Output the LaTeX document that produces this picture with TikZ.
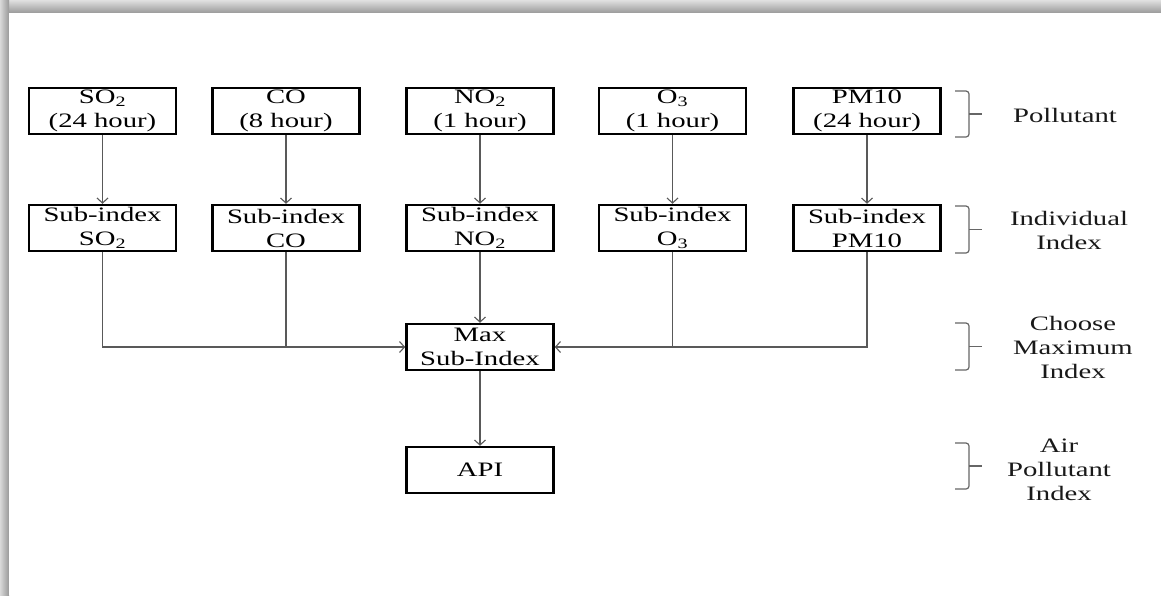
\documentclass[tikz,border=0pt]{standalone}
\usepackage{fontspec}
\setmainfont{Liberation Serif}[FakeStretch=1.4]
\usetikzlibrary{arrows.meta}
\begin{document}
\begin{tikzpicture}[x=1pt,y=-1pt,
  box/.style={draw=black,line width=2.5pt,minimum width=147pt,minimum height=46pt,inner sep=0pt,align=center,
    font=\fontsize{20.5}{24}\selectfont,text=black},
  lbl/.style={align=center,font=\fontsize{20.5}{24}\selectfont,text=black!90},
  conn/.style={draw=black!65,line width=1.2pt},
  arr/.style={conn,-{Straight Barb[length=5pt,width=11pt,line width=1.1pt]}},
  brk/.style={draw=black!60,line width=1.2pt,rounded corners=3pt}]
\useasboundingbox (0,0) rectangle (1161,595);
\fill[white] (0,0) rectangle (1161,595);
% page shadow
\shade[top color=black!12,bottom color=black!40] (0,0) rectangle (1161,13);
\shade[left color=black!15,right color=black!40] (0,0) rectangle (9,595);
\fill[white] (9,13) rectangle (1161,595);

% pollutant row
\node[box] (p1) at (102.5,111) {SO\textsubscript{2}\\(24 hour)};
\node[box] (p2) at (286,111) {CO\\(8 hour)};
\node[box] (p3) at (480,111) {NO\textsubscript{2}\\(1 hour)};
\node[box] (p4) at (672.5,111) {O\textsubscript{3}\\(1 hour)};
\node[box] (p5) at (867,111) {PM10\\(24 hour)};
% sub-index row
\node[box] (s1) at (102.5,228) {Sub-index\\SO\textsubscript{2}};
\node[box] (s2) at (286,228) {Sub-index\\CO};
\node[box] (s3) at (480,228) {Sub-index\\NO\textsubscript{2}};
\node[box] (s4) at (672.5,228) {Sub-index\\O\textsubscript{3}};
\node[box] (s5) at (867,228) {Sub-index\\PM10};
% max and API
\node[box] (mx) at (480,347) {Max\\Sub-Index};
\node[box] (api) at (480,470) {API};

% connectors
\foreach \i in {1,...,5} {\draw[arr] (p\i) -- (s\i);}
\draw[arr] (s1.south) |- (mx.west);
\draw[conn] (s2.south) -- (s2.south |- mx.west);
\draw[arr] (s3) -- (mx);
\draw[conn] (s4.south) -- (s4.south |- mx.east);
\draw[arr] (s5.south) |- (mx.east);
\draw[arr] (mx) -- (api);

% brackets
\foreach \t/\b in {91/137, 206/253, 323/370, 443/489} {
  \draw[brk] (955,\t) -- (969,\t) -- (969,\b) -- (955,\b);
  \draw[brk] (969,{(\t+\b)/2}) -- (982,{(\t+\b)/2});
}
\node[lbl] (l1) at (1065,115) {Pollutant};
\node[lbl] (l2) at (1069,230) {Individual\\Index};
\node[lbl] (l3) at (1073,347) {Choose\\Maximum\\Index};
\node[lbl] (l4) at (1059,470) {Air\\Pollutant\\Index};
\end{tikzpicture}
\end{document}
